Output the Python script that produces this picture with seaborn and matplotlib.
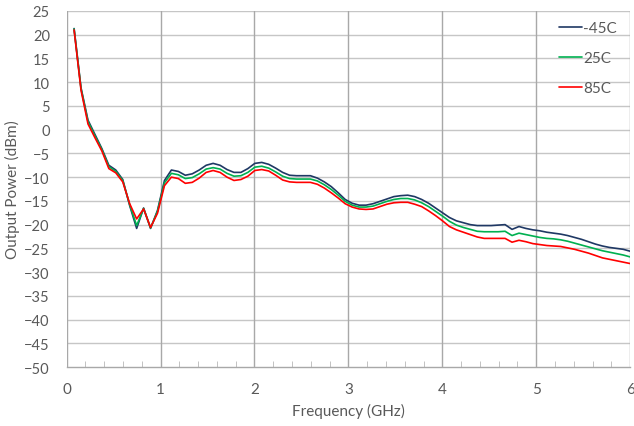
import numpy as np
import pandas as pd
import matplotlib
matplotlib.use("Agg")
import matplotlib.pyplot as plt
import seaborn as sns
from matplotlib.ticker import MultipleLocator

# Frequency sweep points (GHz)
freq_ghz = [
    0.080, 0.154, 0.228, 0.302, 0.376, 0.450, 0.524, 0.598, 0.672, 0.746,
    0.820, 0.894, 0.968, 1.042, 1.116, 1.190, 1.264, 1.338, 1.412, 1.486,
    1.560, 1.634, 1.708, 1.782, 1.856, 1.930, 2.004, 2.078, 2.152, 2.226,
    2.300, 2.374, 2.448, 2.522, 2.596, 2.670, 2.744, 2.818, 2.892, 2.966,
    3.040, 3.114, 3.188, 3.262, 3.336, 3.410, 3.484, 3.558, 3.632, 3.706,
    3.780, 3.854, 3.928, 4.002, 4.076, 4.150, 4.224, 4.298, 4.372, 4.446,
    4.520, 4.594, 4.668, 4.742, 4.816, 4.890, 4.964, 5.038, 5.112, 5.186,
    5.260, 5.334, 5.408, 5.482, 5.556, 5.630, 5.704, 5.778, 5.852, 5.926,
    6.000,
]

# Output power (dBm) at each temperature
power_m45c = [
    21.3, 8.8, 2.0, -1.0, -4.0, -7.5, -8.5, -10.5, -16.0, -20.8,
    -16.5, -20.8, -17.0, -10.7, -8.5, -8.8, -9.6, -9.3, -8.5, -7.5,
    -7.1, -7.5, -8.4, -9.0, -9.0, -8.2, -7.1, -6.9, -7.3, -8.1,
    -9.0, -9.6, -9.7, -9.7, -9.7, -10.2, -11.0, -12.0, -13.3, -14.7,
    -15.5, -15.9, -15.9, -15.6, -15.1, -14.6, -14.1, -13.9, -13.8, -14.1,
    -14.7, -15.5, -16.5, -17.5, -18.5, -19.2, -19.6, -20.0, -20.2, -20.2,
    -20.2, -20.1, -20.0, -21.0, -20.4, -20.8, -21.1, -21.3, -21.6, -21.8,
    -22.0, -22.3, -22.7, -23.1, -23.6, -24.1, -24.5, -24.8, -25.0, -25.2,
    -25.6,
]
power_25c = [
    21.2, 8.6, 1.7, -1.3, -4.2, -7.8, -8.8, -10.7, -15.8, -20.2,
    -16.6, -20.7, -17.2, -11.2, -9.2, -9.5, -10.3, -10.1, -9.3, -8.3,
    -8.0, -8.3, -9.2, -9.8, -9.7, -9.0, -7.9, -7.7, -8.1, -8.9,
    -9.8, -10.3, -10.4, -10.4, -10.4, -10.8, -11.6, -12.6, -13.8, -15.1,
    -15.9, -16.3, -16.3, -16.1, -15.6, -15.1, -14.7, -14.5, -14.5, -14.8,
    -15.4, -16.2, -17.2, -18.2, -19.3, -20.1, -20.6, -21.0, -21.4, -21.5,
    -21.5, -21.5, -21.4, -22.3, -21.8, -22.1, -22.4, -22.7, -22.9, -23.0,
    -23.2, -23.5, -23.9, -24.3, -24.7, -25.1, -25.5, -25.8, -26.1, -26.4,
    -26.8,
]
power_85c = [
    21.0, 8.3, 1.2, -1.7, -4.5, -8.2, -9.1, -11.0, -15.6, -18.8,
    -16.7, -20.6, -17.6, -11.8, -10.0, -10.3, -11.3, -11.1, -10.2, -9.0,
    -8.6, -9.0, -10.0, -10.7, -10.5, -9.8, -8.6, -8.4, -8.7, -9.6,
    -10.6, -11.0, -11.1, -11.1, -11.1, -11.5, -12.3, -13.3, -14.4, -15.6,
    -16.3, -16.7, -16.8, -16.7, -16.2, -15.7, -15.4, -15.3, -15.3, -15.7,
    -16.2, -17.1, -18.1, -19.2, -20.4, -21.1, -21.6, -22.1, -22.6, -22.9,
    -22.9, -22.9, -22.9, -23.7, -23.3, -23.6, -24.0, -24.2, -24.4, -24.5,
    -24.6, -24.9, -25.2, -25.6, -26.0, -26.5, -27.0, -27.3, -27.6, -27.9,
    -28.2,
]

temperatures = ["-45C", "25C", "85C"]
colors = ["#1f3864", "#00b050", "#ff0000"]

df = pd.concat([
    pd.DataFrame({"Frequency": freq_ghz, "Power": p, "Temp": t})
    for p, t in zip([power_m45c, power_25c, power_85c], temperatures)
])

sns.set_style("white")
plt.rcParams["font.family"] = ["Lato", "DejaVu Sans"]
text_color = "#595959"

fig = plt.figure(figsize=(6.34, 4.27), dpi=100)
ax = fig.add_axes([0.105, 0.138, 0.889, 0.834])

sns.lineplot(data=df, x="Frequency", y="Power", hue="Temp",
             hue_order=temperatures, palette=colors, linewidth=1.2,
             estimator=None, sort=False, ax=ax)

ax.set_xlim(0, 6)
ax.set_ylim(-50, 25)
ax.xaxis.set_major_locator(MultipleLocator(1))
ax.xaxis.set_minor_locator(MultipleLocator(0.2))
ax.yaxis.set_major_locator(MultipleLocator(5))

ax.grid(False)
for v in np.arange(-45, 26, 5):
    ax.axhline(v, color="#c6c6c6", linewidth=1.0, zorder=0)
for v in range(0, 7):
    ax.axvline(v, color="#a8a8a8", linewidth=1.0, zorder=0)

for side in ["top", "right", "left"]:
    ax.spines[side].set_visible(False)
ax.spines["bottom"].set_color("#a8a8a8")
ax.spines["bottom"].set_linewidth(1.0)

ax.tick_params(axis="x", which="major", direction="out", length=5,
               color="#a8a8a8", labelcolor=text_color, labelsize=11, pad=6)
ax.tick_params(axis="x", which="minor", direction="in", length=4,
               color="#b8b8b8", bottom=True)
ax.tick_params(axis="y", which="major", length=0, labelcolor=text_color,
               labelsize=10.5, pad=12)

ax.set_xlabel("Frequency (GHz)", color=text_color, fontsize=11, labelpad=5)
ax.set_ylabel("Output Power (dBm)", color=text_color, fontsize=11)
ax.yaxis.set_label_coords(-0.082, 0.5)

leg = ax.legend(loc="upper left", bbox_to_anchor=(0.85, 1.01),
                frameon=False, handlelength=1.45, handletextpad=0.1,
                labelspacing=1.05, fontsize=11)
for txt in leg.get_texts():
    txt.set_color(text_color)

fig.savefig("out.png", dpi=100)
